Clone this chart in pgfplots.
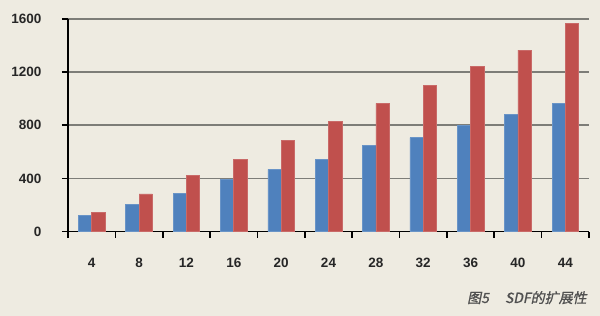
\documentclass[border=0pt]{standalone}
\usepackage{pgfplots}
\pgfplotsset{compat=1.18}
\usepackage{fontspec}
\setmainfont{Liberation Sans}
\newfontfamily\cjk[FakeSlant=0.2,FakeBold=1.0]{Noto Sans CJK SC}
\definecolor{bg}{RGB}{238,235,225}
\definecolor{barblue}{RGB}{79,129,189}
\definecolor{barred}{RGB}{192,80,77}
\definecolor{gridc}{RGB}{125,125,120}
\definecolor{capc}{RGB}{80,80,80}
\begin{document}
\begin{tikzpicture}[x=1pt,y=1pt]
\fill[bg] (0,0) rectangle (600,316);
\useasboundingbox (0,0) rectangle (600,316);
\begin{axis}[
  at={(68pt,84.4pt)}, anchor=south west,
  scale only axis, width=521pt, height=212.6pt,
  xmin=-0.5, xmax=10.5, ymin=0, ymax=1600,
  ybar=0pt, bar width=13.3pt,
  axis x line*=bottom, axis y line*=left,
  axis line style={black, line width=1.7pt, -},
  xtick={0,...,10},
  xticklabels={4,8,12,16,20,24,28,32,36,40,44},
  major x tick style={draw=none},
  minor xtick={-0.5,0.5,...,10.5},
  minor tick length=6pt,
  minor x tick style={black, line width=1.7pt},
  ytick={0,400,800,1200,1600},
  major tick length=6pt,
  tick align=outside,
  major y tick style={black, line width=1.7pt},
  ymajorgrids,
  major grid style={gridc, line width=1.6pt},
  tick label style={font=\fontsize{13.5}{15}\selectfont\bfseries, text=black!85},
  /pgf/number format/assume math mode=true,
  /pgf/number format/1000 sep={},
  xticklabel style={yshift=-17pt},
  yticklabel style={xshift=-17pt},
  clip=false,
]
\addplot[fill=barblue, draw=barblue!85!white, line width=0.6pt] coordinates {
(0,121) (1,205) (2,286) (3,392) (4,469) (5,546) (6,646) (7,707) (8,802) (9,885) (10,965)};
\addplot[fill=barred, draw=barred!85!white, line width=0.6pt] coordinates {
(0,144) (1,283) (2,425) (3,546) (4,689) (5,827) (6,965) (7,1103) (8,1244) (9,1366) (10,1564)};
\end{axis}
\node[anchor=base west, text=capc, inner sep=0pt, font=\fontsize{14}{16}\selectfont\cjk] at (467,13) {图5\hspace{16pt}SDF的扩展性};
\end{tikzpicture}
\end{document}
